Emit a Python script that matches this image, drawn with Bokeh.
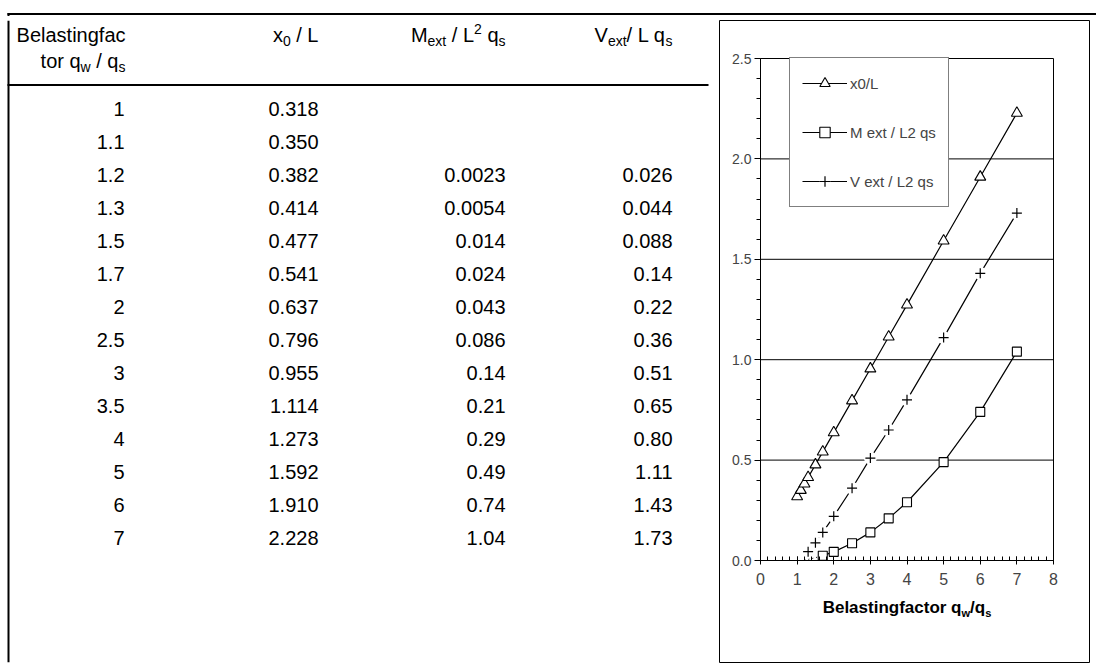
from bokeh.plotting import figure
from bokeh.models import Range1d, LinearAxis, FixedTicker, Span, Legend, LegendItem, NumeralTickFormatter
from bokeh.layouts import column, row
from bokeh.embed import file_html
from bokeh.resources import INLINE
from bokeh.core.properties import value

# ---------------- data ----------------
load_factor = [1, 1.1, 1.2, 1.3, 1.5, 1.7, 2, 2.5, 3, 3.5, 4, 5, 6, 7]
load_factor_text = ["1", "1.1", "1.2", "1.3", "1.5", "1.7", "2", "2.5", "3", "3.5", "4", "5", "6", "7"]
x0_L = [0.318, 0.350, 0.382, 0.414, 0.477, 0.541, 0.637, 0.796, 0.955, 1.114, 1.273, 1.592, 1.910, 2.228]
x0_L_text = ["0.318", "0.350", "0.382", "0.414", "0.477", "0.541", "0.637", "0.796", "0.955", "1.114",
             "1.273", "1.592", "1.910", "2.228"]
M_ext = [None, None, 0.0023, 0.0054, 0.014, 0.024, 0.043, 0.086, 0.14, 0.21, 0.29, 0.49, 0.74, 1.04]
M_ext_text = ["", "", "0.0023", "0.0054", "0.014", "0.024", "0.043", "0.086", "0.14", "0.21", "0.29",
              "0.49", "0.74", "1.04"]
V_ext = [None, None, 0.026, 0.044, 0.088, 0.14, 0.22, 0.36, 0.51, 0.65, 0.80, 1.11, 1.43, 1.73]
V_ext_text = ["", "", "0.026", "0.044", "0.088", "0.14", "0.22", "0.36", "0.51", "0.65", "0.80",
              "1.11", "1.43", "1.73"]
legend_labels = ["x0/L", "M ext / L2 qs", "V ext / L2 qs"]
x_ticks = [0, 1, 2, 3, 4, 5, 6, 7, 8]
y_ticks = [0.0, 0.5, 1.0, 1.5, 2.0, 2.5]
grid_levels = [0.5, 1.0, 1.5, 2.0]
x_lim = (0, 8)
y_lim = (0, 2.5)

FONT = "Liberation Sans"

# Arial / Liberation Sans advance widths (per 1000 em)
W_REG = {' ': 278, '/': 278, '.': 278, 'B': 667, 'L': 556, 'M': 833, 'V': 667, 'a': 556, 'c': 500,
         'e': 556, 'f': 278, 'g': 556, 'i': 222, 'l': 222, 'n': 556, 'o': 556, 'q': 556, 'r': 333,
         's': 500, 't': 278, 'w': 722, 'x': 500}
W_BOLD = {' ': 278, '/': 278, 'B': 722, 'a': 556, 'c': 556, 'e': 556, 'f': 333, 'g': 611, 'i': 278,
          'l': 278, 'n': 611, 'o': 611, 'q': 611, 'r': 389, 's': 556, 't': 333, 'w': 778}


def text_width(s, size, bold=False):
    table = W_BOLD if bold else W_REG
    return sum(table.get(c, 556) for c in s) * size / 1000.0


def rich_layout(parts, size, x_left, bold=False, small=0.70):
    """Lay out rich text left to right; returns list of (x_left, text, font_size, dy) with
    leading / trailing blanks turned into offsets (SVG collapses them) and the total width."""
    out = []
    x = x_left
    for txt, kind in parts:
        fs = size if kind == "n" else size * small
        base = 0.0
        if kind == "sub":
            base = 0.20 * size
        elif kind == "sup":
            base = -0.42 * size
        dy = 0.35 * size + base - 0.35 * fs
        lead = len(txt) - len(txt.lstrip(" "))
        core = txt.strip(" ")
        out.append((x + text_width(" " * lead, fs, bold), core, fs, dy))
        x += text_width(txt, fs, bold)
    return out, x - x_left


def rich_width(parts, size, bold=False, small=0.70):
    return rich_layout(parts, size, 0.0, bold, small)[1]


def common(fig):
    fig.grid.visible = False
    return fig


# ---------------- top strip (rule across the page) ----------------
strip = figure(width=1096, height=16, x_range=Range1d(0, 1096), y_range=Range1d(16, 0),
               x_axis_type=None, y_axis_type=None, toolbar_location=None, output_backend="svg",
               min_border=0, outline_line_color=None, title_location=None)
common(strip)
strip.segment(x0=[7, 8], x1=[1096, 8], y0=[13.5, 12.5], y1=[13.5, 16], line_color="black", line_width=2)

# ---------------- table ----------------
TF = 20
ROW0, ROWH = 105, 33.3
HEAD1, HEAD2 = 31, 57
SEP_Y = 81
HR, C1, C2, C3, C4 = 125, 124, 318, 505, 672

tab = figure(width=712, height=648, x_range=Range1d(0, 712), y_range=Range1d(664, 16),
             x_axis_type=None, y_axis_type=None, toolbar_location=None, output_backend="svg",
             min_border=0, outline_line_color=None, title_location=None)
common(tab)
tab.add_layout(Span(location=8, dimension="height", line_color="black", line_width=2))
tab.segment(x0=[7], x1=[708], y0=[SEP_Y], y1=[SEP_Y], line_color="black", line_width=2)


def tab_rich(xr_, yc, parts, size):
    w = rich_width(parts, size)
    items, _ = rich_layout(parts, size, xr_ - w)
    for x, txt, fs, dy in items:
        tab.text(x=[x], y=[yc + dy], text=[txt], text_align="left", text_baseline="middle",
                 text_font=value(FONT), text_font_size=f"{fs:.1f}px", text_color="black")


tab_rich(HR, HEAD1, [("Belastingfac", "n")], TF)
tab_rich(HR, HEAD2, [("tor q", "n"), ("w", "sub"), (" / q", "n"), ("s", "sub")], TF)
tab_rich(C2, HEAD1, [("x", "n"), ("0", "sub"), (" / L", "n")], TF)
tab_rich(C3, HEAD1, [("M", "n"), ("ext", "sub"), (" / L", "n"), ("2", "sup"), (" q", "n"), ("s", "sub")], TF)
tab_rich(C4, HEAD1, [("V", "n"), ("ext", "sub"), ("/ L q", "n"), ("s", "sub")], TF)

row_y = [ROW0 + i * ROWH for i in range(len(load_factor))]
for xr_, labels in ((C1, load_factor_text), (C2, x0_L_text), (C3, M_ext_text), (C4, V_ext_text)):
    tab.text(x=[xr_] * len(labels), y=row_y, text=labels, text_align="right", text_baseline="middle",
             text_font=value(FONT), text_font_size=f"{TF}px", text_color="black")

# ---------------- chart ----------------
CW, CH = 384, 648                    # page x 712..1096, y 16..664
FL, FR, FT, FB = 7, 7, 4, 2          # borders -> frame = chart box (719..1089, 20..662)
frame_w = CW - FL - FR
frame_h = CH - FT - FB
px_x0, px_x8 = 41, 334               # x=0 and x=8 from frame left
px_y25, px_y0 = 38, 540              # y=2.5 and y=0 from frame top
kx = (px_x8 - px_x0) / (x_lim[1] - x_lim[0])
ky = (px_y0 - px_y25) / (y_lim[1] - y_lim[0])
xr = Range1d(x_lim[0] - px_x0 / kx, x_lim[1] + (frame_w - px_x8) / kx)
yr = Range1d(y_lim[0] - (frame_h - px_y0) / ky, y_lim[1] + px_y25 / ky)

p = figure(width=CW, height=CH, x_range=xr, y_range=yr, x_axis_type=None, y_axis_type=None,
           toolbar_location=None, output_backend="svg", title_location=None,
           min_border_left=FL, min_border_right=FR, min_border_top=FT, min_border_bottom=FB,
           outline_line_color="black", outline_line_width=1)
common(p)

# gridlines and plot-area border
p.segment(x0=x_lim[0], x1=x_lim[1], y0=grid_levels, y1=grid_levels, line_color="black", line_width=1)
p.segment(x0=[x_lim[0], x_lim[1]], x1=[x_lim[1], x_lim[1]], y0=[y_lim[1], y_lim[0]], y1=[y_lim[1], y_lim[1]],
          line_color="black", line_width=1)

xaxis = LinearAxis(fixed_location=0, bounds=x_lim,
                   ticker=FixedTicker(ticks=x_ticks, minor_ticks=[i / 5 for i in range(41)]),
                   major_tick_in=4, major_tick_out=4, minor_tick_in=4, minor_tick_out=0,
                   major_label_standoff=8, major_label_text_font=FONT, major_label_text_font_size="16px",
                   axis_line_color="black", major_tick_line_color="black", minor_tick_line_color="black")
yaxis = LinearAxis(fixed_location=0, bounds=y_lim,
                   ticker=FixedTicker(ticks=y_ticks, minor_ticks=[i / 10 for i in range(26)]),
                   major_tick_in=0, major_tick_out=6, minor_tick_in=0, minor_tick_out=4,
                   major_label_standoff=3, major_label_text_font=FONT, major_label_text_font_size="14px",
                   formatter=NumeralTickFormatter(format="0.0"),
                   axis_line_color="black", major_tick_line_color="black", minor_tick_line_color="black")
p.add_layout(xaxis, "below")
p.add_layout(yaxis, "left")

# series x0/L
r_x_line = p.line(load_factor, x0_L, line_color="black", line_width=1.2)
r_x_mark = p.scatter(load_factor, x0_L, marker="triangle", size=11, fill_color="white",
                     line_color="black", line_width=1.1)

# series M ext
m_x = [x for x, v in zip(load_factor, M_ext) if v is not None]
m_y = [v for v in M_ext if v is not None]
m_first = m_x.index(1.7)
p.line(m_x[:m_first + 1], m_y[:m_first + 1], line_color="black", line_width=1, line_dash="1 3")
r_m_line = p.line(m_x[m_first:], m_y[m_first:], line_color="black", line_width=1.2)
r_m_mark = p.scatter(m_x[m_first:], m_y[m_first:], marker="square", size=9, fill_color="white",
                     line_color="black", line_width=1.1)

# series V ext
v_x = [x for x, v in zip(load_factor, V_ext) if v is not None]
v_y = [v for v in V_ext if v is not None]
v_first = v_x.index(1.3)
p.line(v_x[:v_first + 1], v_y[:v_first + 1], line_color="black", line_width=1, line_dash="1 3")
r_v_line = p.line(v_x[v_first:], v_y[v_first:], line_color="black", line_width=1.2)
r_v_gap = p.scatter(v_x[v_first:], v_y[v_first:], marker="circle", size=13, fill_color="white",
                    line_color=None)
r_v_mark = p.scatter(v_x[v_first:], v_y[v_first:], marker="cross", size=10, line_color="black",
                     line_width=1.2)

# x-axis title with subscripts
TS = 17
title_parts = [("Belastingfactor q", "n"), ("w", "sub"), ("/q", "n"), ("s", "sub")]
tw_px = rich_width(title_parts, TS, bold=True, small=0.65)
cx_px = ((x_lim[0] + x_lim[1]) / 2 - xr.start) * kx
items, _ = rich_layout(title_parts, TS, cx_px - tw_px / 2, bold=True, small=0.65)
ty = y_lim[0] - (607 - 560) / ky
for x_px, txt, fs, dy in items:
    p.text(x=[xr.start + x_px / kx], y=[ty - dy / ky], text=[txt], text_align="left", text_baseline="middle",
           text_font=value(FONT), text_font_size=f"{fs:.1f}px", text_font_style="bold", text_color="black")

legend = Legend(items=[LegendItem(label=legend_labels[0], renderers=[r_x_line, r_x_mark]),
                       LegendItem(label=legend_labels[1], renderers=[r_m_line, r_m_mark]),
                       LegendItem(label=legend_labels[2], renderers=[r_v_line, r_v_gap, r_v_mark])],
                location=(70, 455), border_line_color="black", border_line_width=1,
                background_fill_color="white", background_fill_alpha=1.0,
                label_text_font=FONT, label_text_font_size="15px", label_text_baseline="middle",
                glyph_width=45, glyph_height=26, label_height=26, spacing=23, padding=12, margin=0,
                label_standoff=3)
p.add_layout(legend)

layout = column(strip, row(tab, p, spacing=0), spacing=0)
open("out.html", "w").write(file_html(layout, INLINE))
